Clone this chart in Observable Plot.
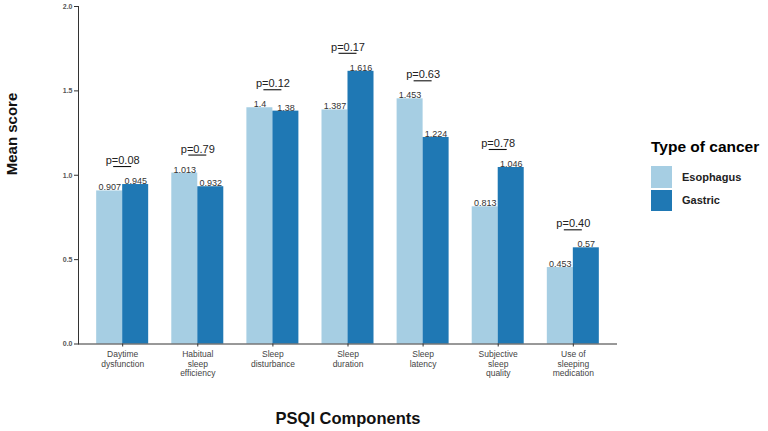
<!DOCTYPE html>
<html>
<head>
<meta charset="utf-8">
<script src="https://cdn.jsdelivr.net/npm/d3@7"></script>
<script src="https://cdn.jsdelivr.net/npm/@observablehq/plot@0.6"></script>
<style>
  html, body { margin: 0; padding: 0; background: #fff; }
  body { width: 768px; height: 431px; position: relative; overflow: hidden; font-family: "Liberation Sans", Arial, sans-serif; }
  #legend { position: absolute; left: 651px; top: 138px; font-family: "Liberation Sans", Arial, sans-serif; }
  #legend .title { font-size: 15.5px; font-weight: bold; color: #000; margin-bottom: 9px; white-space: nowrap; }
  #legend .row { display: flex; align-items: center; height: 23.5px; }
  #legend .sw { width: 21px; height: 21.5px; margin-right: 10px; }
  #legend .lab { font-size: 11px; font-weight: bold; color: #222; }
</style>
</head>
<body>
<div id="chart"></div>
<div id="legend"></div>
<script>
// Data
const categories = ["Daytime\ndysfunction", "Habitual\nsleep\nefficiency", "Sleep\ndisturbance", "Sleep\nduration", "Sleep\nlatency", "Subjective\nsleep\nquality", "Use of\nsleeping\nmedication"];
const esophagus = [0.907, 1.013, 1.4, 1.387, 1.453, 0.813, 0.453];
const gastric = [0.945, 0.932, 1.38, 1.616, 1.224, 1.046, 0.57];
const esophagusLabels = ["0.907", "1.013", "1.4", "1.387", "1.453", "0.813", "0.453"];
const gastricLabels = ["0.945", "0.932", "1.38", "1.616", "1.224", "1.046", "0.57"];
const pValues = ["p=0.08", "p=0.79", "p=0.12", "p=0.17", "p=0.63", "p=0.78", "p=0.40"];
const types = ["Esophagus", "Gastric"];
const colors = ["#a6cee3", "#1f78b4"];
const yTicks = [0, 0.5, 1.0, 1.5, 2.0];

const esoRows = categories.map((c, i) => ({cat: c, value: esophagus[i], label: esophagusLabels[i]}));
const gasRows = categories.map((c, i) => ({cat: c, value: gastric[i], label: gastricLabels[i]}));
const pRows = categories.map((c, i) => ({cat: c, top: Math.max(esophagus[i], gastric[i]), p: pValues[i]}));

const half = 26;
const font = '"Liberation Sans", Arial, sans-serif';

const chart = Plot.plot({
  width: 768,
  height: 431,
  marginLeft: 78,
  marginRight: 151,
  marginTop: 6,
  marginBottom: 87.5,
  style: {fontFamily: font, background: "#fff"},
  x: {domain: categories, paddingInner: 0.3076, paddingOuter: 0.242, round: false, label: null},
  y: {domain: [0, 2], label: null},
  marks: [
    Plot.barY(esoRows, {x: "cat", y: "value", fill: colors[0], insetRight: half, insetLeft: 0}),
    Plot.barY(gasRows, {x: "cat", y: "value", fill: colors[1], insetLeft: half, insetRight: 0}),
    Plot.text(esoRows, {x: "cat", y: "value", text: "label", dx: -half / 2, dy: -0.5, lineAnchor: "bottom", fontSize: 9, fill: "#333"}),
    Plot.text(gasRows, {x: "cat", y: "value", text: "label", dx: half / 2, dy: -0.5, lineAnchor: "bottom", fontSize: 9, fill: "#333"}),
    Plot.tickY(pRows, {x: "cat", y: "top", dy: -18, insetLeft: 17, insetRight: 17, stroke: "#111", strokeWidth: 1.1}),
    Plot.text(pRows, {x: "cat", y: "top", text: "p", dy: -20.5, lineAnchor: "bottom", fontSize: 11, fill: "#222"}),
    Plot.ruleY([0], {stroke: "#333", strokeWidth: 1}),
    Plot.frame({anchor: "left", stroke: "#333", strokeWidth: 1}),
    Plot.axisY({ticks: yTicks, tickFormat: d3.format(".1f"), tickSize: 4, tickPadding: 2, fontSize: 7, fontWeight: "bold", fill: "#555", stroke: "#333", label: null}),
    Plot.axisX({tickSize: 3, tickPadding: 3, fontSize: 8.5, fill: "#444", stroke: "#333", label: null, lineHeight: 1.15}),
    Plot.text(["Mean score"], {frameAnchor: "left", dx: -66, rotate: -90, fontSize: 15, fontWeight: "bold", fill: "#111"}),
    Plot.text(["PSQI Components"], {frameAnchor: "bottom", dy: 74.5, lineAnchor: "middle", fontSize: 16.5, fontWeight: "bold", fill: "#111"})
  ]
});
document.getElementById("chart").appendChild(chart);

// Legend
const legend = document.getElementById("legend");
const t = document.createElement("div");
t.className = "title";
t.textContent = "Type of cancer";
legend.appendChild(t);
types.forEach((name, i) => {
  const row = document.createElement("div");
  row.className = "row";
  const sw = document.createElement("div");
  sw.className = "sw";
  sw.style.background = colors[i];
  const lab = document.createElement("div");
  lab.className = "lab";
  lab.textContent = name;
  row.appendChild(sw);
  row.appendChild(lab);
  legend.appendChild(row);
});
</script>
</body>
</html>
